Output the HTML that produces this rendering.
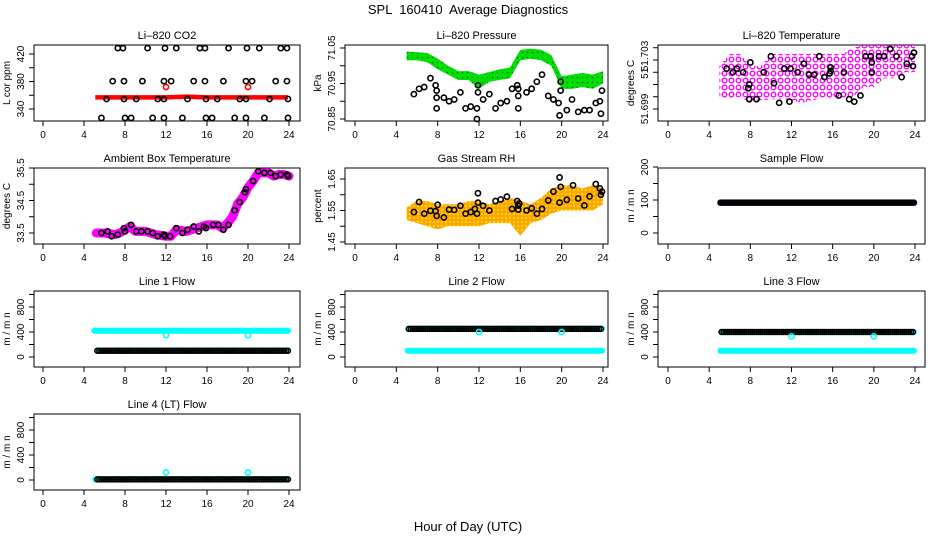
<!DOCTYPE html>
<html><head><meta charset="utf-8"><style>
body{margin:0;background:#fff}
svg{display:block;font-family:"Liberation Sans",sans-serif}
</style></head><body>
<svg id="c" width="936" height="540" viewBox="0 0 936 540">
<defs>
<pattern id="pGreen" width="5" height="5" patternUnits="userSpaceOnUse"><rect width="5" height="5" fill="#00e000"/><circle cx="2.5" cy="2.5" r="0.8" fill="#063"/></pattern>
<pattern id="pMag" width="7" height="7" patternUnits="userSpaceOnUse"><circle cx="3.5" cy="3.5" r="2.3" fill="none" stroke="#f0f" stroke-width="1.4"/></pattern>
<pattern id="pOr" width="4" height="4" patternUnits="userSpaceOnUse"><rect width="4" height="4" fill="#ffa500"/><circle cx="2" cy="2" r="0.9" fill="#ff0"/></pattern>
</defs>
<text x="468" y="14" text-anchor="middle" font-size="13" style="white-space:pre">SPL  160410  Average Diagnostics</text>
<text x="468" y="531" text-anchor="middle" font-size="13">Hour of Day (UTC)</text>
</svg>
<script>
// ---- data ----
const co2Top=[7.3,7.8,10.2,11.9,13.0,15.3,15.8,18.1,19.9,21.1,23.2,23.8];
const co2Mid=[6.8,7.9,9.7,11.8,12.5,14.7,15.8,17.6,19.8,20.4,22.7,23.8];
const co2Low=[6.2,7.9,9.1,11.2,11.8,14.1,15.9,17.0,19.2,19.8,22.1,23.9];
const co2Bot=[5.7,8.0,8.6,10.7,11.8,13.6,15.9,16.5,18.7,19.8,21.6,23.9];
const co2Levels=[428.5,380.5,354.5,327];
const redHours=[5.1,8,12,14,16,18,20,22,23.9];
const redVals=[357,357,357,358,357,357,357,357,357];
const redOutX=[12,20];const redOutY=[372,372];

const bandHours=[5,6,7,8,9,10,11,12,13,14,15,16,17,18,19,20,21,22,23,24];
const presLo=[71.015,71.015,71.01,70.99,70.975,70.96,70.96,70.935,70.955,70.96,70.965,71.015,71.02,71.015,71.0,70.935,70.935,70.94,70.935,70.95];
const presHi=[71.04,71.038,71.036,71.02,71.0,70.985,70.985,70.975,70.982,70.99,70.995,71.045,71.048,71.045,71.03,70.97,70.975,70.98,70.975,70.985];
const presBX=[5.7,6.2,6.7,7.3,7.8,7.9,7.9,7.9,8.6,9.1,9.6,10.2,10.7,11.2,11.8,11.9,11.9,11.8,12.4,13.0,13.6,14.1,14.7,15.2,15.7,15.8,15.8,15.8,16.6,17.1,17.6,18.1,18.7,19.2,19.7,19.8,19.9,19.9,20.5,21.0,21.6,22.2,22.7,23.3,23.7,23.8,23.9];
const presBY=[70.92,70.935,70.94,70.965,70.945,70.93,70.91,70.88,70.91,70.9,70.905,70.925,70.88,70.885,70.88,70.925,70.945,70.85,70.905,70.92,70.88,70.895,70.9,70.935,70.945,70.935,70.915,70.88,70.925,70.935,70.955,70.975,70.915,70.905,70.895,70.86,70.93,70.955,70.875,70.905,70.87,70.875,70.875,70.895,70.9,70.865,70.93];

const tempLo=[51.7,51.6998,51.7,51.6995,51.6997,51.6998,51.6998,51.6997,51.6995,51.6997,51.6999,51.6998,51.6999,51.7,51.7008,51.7008,51.7015,51.7015,51.702,51.702];
const tempHi=[51.7025,51.7035,51.7035,51.7025,51.7025,51.7035,51.7035,51.7035,51.7035,51.7035,51.7035,51.7035,51.7035,51.704,51.7042,51.7042,51.7042,51.7042,51.7042,51.7042];
const tempBX=[5.7,6.3,6.7,7.3,7.8,7.9,8.0,7.9,8.6,9.3,10.0,10.3,10.8,11.3,11.8,11.9,12.6,13.2,13.7,14.2,14.7,15.2,15.7,15.8,15.8,16.6,17.1,17.6,18.1,18.7,19.2,19.7,19.8,19.8,20.5,21.0,21.6,22.2,22.7,23.2,23.7,23.8,23.9];
const tempBY=[51.7023,51.702,51.7023,51.702,51.7007,51.701,51.7028,51.6998,51.6998,51.702,51.7033,51.7011,51.6995,51.7023,51.6996,51.7023,51.702,51.7027,51.7018,51.7018,51.7033,51.7016,51.7019,51.7021,51.7024,51.7001,51.702,51.6998,51.6996,51.7001,51.7033,51.7033,51.7028,51.702,51.7033,51.7033,51.7039,51.7033,51.7016,51.7027,51.7033,51.7025,51.7036];

const ambHours=[5.2,6,7,7.5,8,8.5,9,10,11,12,12.5,13,14,15,16,16.5,17,17.5,18,18.5,19,19.5,20,20.5,21,21.5,22,22.5,23,23.5,24];
const ambVals=[33.5,33.5,33.45,33.5,33.6,33.7,33.55,33.55,33.45,33.4,33.4,33.6,33.55,33.65,33.75,33.75,33.75,33.65,33.8,34.0,34.4,34.6,34.9,35.1,35.35,35.35,35.35,35.25,35.3,35.3,35.25];
const ambBX=[5.7,6.3,6.7,7.3,7.9,8.0,8.6,9.1,9.6,10.2,10.7,11.2,11.8,11.9,12.4,13.0,13.6,14.1,14.7,15.2,15.7,15.9,16.6,17.1,17.6,18.1,18.7,19.2,19.7,19.8,20.5,21.0,21.6,22.2,22.7,23.2,23.8,23.9];
const ambBY=[33.5,33.55,33.4,33.45,33.65,33.55,33.75,33.55,33.55,33.55,33.5,33.4,33.45,33.4,33.4,33.65,33.5,33.6,33.7,33.55,33.7,33.65,33.75,33.75,33.6,33.75,34.2,34.45,34.75,34.85,35.1,35.4,35.35,35.35,35.25,35.3,35.3,35.25];

const rhLo=[1.52,1.51,1.5,1.49,1.5,1.5,1.5,1.5,1.51,1.51,1.51,1.47,1.51,1.52,1.54,1.55,1.55,1.55,1.55,1.57];
const rhHi=[1.56,1.58,1.58,1.57,1.57,1.57,1.58,1.58,1.57,1.58,1.59,1.58,1.57,1.59,1.62,1.63,1.63,1.62,1.63,1.62];
const rhBX=[5.7,6.2,6.7,7.3,7.8,7.9,8,8.6,9.1,9.6,10.2,10.7,11.2,11.6,11.8,11.9,11.9,12.4,13,13.6,14.1,14.7,15.2,15.7,15.8,15.9,15.8,16.6,17.1,17.6,18.1,18.7,19.2,19.8,19.8,19.9,20.5,21.1,21.6,22.2,22.7,23.3,23.7,23.8,23.9];
const rhBY=[1.545,1.577,1.54,1.549,1.548,1.533,1.568,1.528,1.553,1.552,1.565,1.54,1.545,1.555,1.54,1.575,1.605,1.565,1.55,1.58,1.585,1.594,1.555,1.58,1.565,1.572,1.553,1.55,1.557,1.54,1.555,1.582,1.61,1.575,1.655,1.625,1.584,1.63,1.588,1.566,1.595,1.634,1.62,1.6,1.61];

// flow series: [start hour, end hour, value]
const sampleBlue=[5.1,23.9,92];
const line1Cyan=[5.0,23.9,420], line1Black=[5.3,23.9,100];
const line2Cyan=[5.1,23.9,100], line2Black=[5.2,23.9,450];
const line3Cyan=[5.1,23.9,100], line3Black=[5.2,23.9,400];
const line4Cyan=[5.1,23.9,10], line4Black=[5.3,23.9,10];
const line1OutX=[12,20], line1OutY=[350,350];
const line4OutX=[12,20], line4OutY=[120,120];

const xTicks=[0,4,8,12,16,20,24];

// ---- drawing ----
const svg=document.getElementById('c');
const NS='http://www.w3.org/2000/svg';
function mk(tag,attrs,parent){const e=document.createElementNS(NS,tag);for(const k in attrs)e.setAttribute(k,attrs[k]);(parent||svg).appendChild(e);return e;}
const cols=[{l:34,r:300,x0:43,x24:289},{l:345,r:608,x0:355,x24:603},{l:658,r:925,x0:668,x24:915}];
const rows=[45,168,291,414];

function panel(ci,ri,name,title,ylab,v1,o1,v2,o2,ticks,labels,lblShift){
  const c=cols[ci],top=rows[ri],bot=top+76;
  const g=mk('g',{});
  
  
  const X=h=>c.x0+(c.x24-c.x0)*h/24;
  const Y=v=>top+o1+(v-v1)*(o2-o1)/(v2-v1);
  const t=mk('text',{x:(c.l+c.r)/2,y:top-6,'text-anchor':'middle','font-size':11},g);t.textContent=title;
  
  
  const b=mk('rect',{x:c.l,y:top,width:c.r-c.l,height:76,fill:'none',stroke:'#000','stroke-width':1},g);
  
  
  xTicks.forEach(h=>{mk('line',{x1:X(h),x2:X(h),y1:bot,y2:bot+5,stroke:'#000'},g);
    const tx=mk('text',{x:X(h),y:bot+17,'text-anchor':'middle','font-size':10},g);tx.textContent=h;
    
    });
  ticks.forEach((v,i)=>{const y=Y(v);if(y<top-1||y>bot+1)return;mk('line',{x1:c.l-5,x2:c.l,y1:y,y2:y,stroke:'#000'},g);
    if(labels[i]){const ly=y+((lblShift&&lblShift[i])||0);const tx=mk('text',{x:c.l-10,y:ly,'text-anchor':'middle','font-size':10,transform:`rotate(-90 ${c.l-10} ${ly})`},g);tx.textContent=labels[i];
      
      }});
  const yl=mk('text',{x:c.l-24,y:top+38,'text-anchor':'middle','font-size':10,transform:`rotate(-90 ${c.l-24} ${top+38})`},g);yl.textContent=ylab;
  
  
  return {g,X,Y};
}
function pts(p,xs,ys,col,r,sw){xs.forEach((h,i)=>{const e=mk('circle',{cx:p.X(h),cy:p.Y(ys[i]),r:r||2.6,fill:'none',stroke:col,'stroke-width':sw||1.6},p.g);
  
  });}
function band(p,hs,lo,hi,fill){let d='M'+hs.map((h,i)=>p.X(h)+','+p.Y(hi[i])).join('L');
  for(let i=hs.length-1;i>=0;i--)d+='L'+p.X(hs[i])+','+p.Y(lo[i]);
  const e=mk('path',{d:d+'Z',fill:fill,stroke:'none'},p.g);
  
  }
function hline(p,s,col,w){const e=mk('line',{x1:p.X(s[0]),x2:p.X(s[1]),y1:p.Y(s[2]),y2:p.Y(s[2]),stroke:col,'stroke-width':w,'stroke-linecap':'round'},p.g);
  
  }
function dotrow(p,s,col){for(let h=s[0];h<=s[1]+0.01;h+=0.2){const e=mk('circle',{cx:p.X(h),cy:p.Y(s[2]),r:2.5,fill:'none',stroke:col,'stroke-width':1.5},p.g);
  
  }}

// CO2
let p=panel(0,0,'co2','Li\u2013820 CO2','L cor ppm',340,64,420,9,[340,360,380,400,420],['340','','380','','420']);
const rp=redHours.map((h,i)=>p.X(h)+','+p.Y(redVals[i])).join(' ');
let pl=mk('polyline',{points:rp,fill:'none',stroke:'#f00','stroke-width':4.5},p.g);


pts(p,redOutX,redOutY,'#f00');
[co2Top,co2Mid,co2Low,co2Bot].forEach((arr,k)=>pts(p,arr,arr.map(()=>co2Levels[k]),'#000'));

// Pressure
p=panel(1,0,'pressure','Li\u2013820 Pressure','kPa',70.85,74,71.05,3,[70.85,70.9,70.95,71.0,71.05],['70.85','','70.95','','71.05']);
band(p,bandHours,presLo,presHi,'url(#pGreen)');
pts(p,presBX,presBY,'#000');

// Temperature
p=panel(2,0,'temperature','Li\u2013820 Temperature','degrees C',51.699,64,51.703,15,[51.699,51.7,51.701,51.702,51.703,51.704],['51.699','','','51','51.703',''],[0,0,0,1,-4,0]);
band(p,bandHours,tempLo,tempHi,'url(#pMag)');
pts(p,tempBX,tempBY,'#000');

// Ambient
p=panel(0,1,'ambient','Ambient Box Temperature','degrees C',33.5,65,35.5,0,[33.5,34,34.5,35,35.5],['33.5','','34.5','','35.5']);
pl=mk('polyline',{points:ambHours.map((h,i)=>p.X(h)+','+p.Y(ambVals[i])).join(' '),fill:'none',stroke:'#f0f','stroke-width':9,'stroke-linejoin':'round','stroke-linecap':'round'},p.g);


pts(p,ambBX,ambBY,'#000');

// RH
p=panel(1,1,'gas-rh','Gas Stream RH','percent',1.45,74,1.65,11,[1.45,1.5,1.55,1.6,1.65],['1.45','','1.55','','1.65']);
band(p,bandHours,rhLo,rhHi,'url(#pOr)');
pts(p,rhBX,rhBY,'#000');

// Sample flow
p=panel(2,1,'sample-flow','Sample Flow','m / m n',0,65,200,-1,[0,50,100,150,200],['0','','100','','200']);
hline(p,sampleBlue,'#00c',6);
dotrow(p,sampleBlue,'#000');

// Line flows
const fT=[0,200,400,600,800,1000],fL=['0','','400','','800',''];
p=panel(0,2,'line1-flow','Line 1 Flow','m / m n',0,66,800,16,fT,fL);
hline(p,line1Cyan,'#0ff',6);hline(p,line1Black,'#0ff',6);dotrow(p,line1Black,'#000');pts(p,line1OutX,line1OutY,'#0ff');
p=panel(1,2,'line2-flow','Line 2 Flow','m / m n',0,66,800,16,fT,fL);
hline(p,line2Cyan,'#0ff',6);hline(p,line2Black,'#0ff',6);dotrow(p,line2Black,'#000');pts(p,[12,20],[400,400],'#0ff');
p=panel(2,2,'line3-flow','Line 3 Flow','m / m n',0,66,800,16,fT,fL);
hline(p,line3Cyan,'#0ff',6);hline(p,line3Black,'#0ff',6);dotrow(p,line3Black,'#000');pts(p,[12,20],[330,330],'#0ff');
p=panel(0,3,'line4-flow','Line 4 (LT) Flow','m / m n',0,66,800,16,fT,fL);
hline(p,line4Cyan,'#0ff',6);dotrow(p,line4Black,'#000');pts(p,line4OutX,line4OutY,'#0ff');
</script>
</body></html>
